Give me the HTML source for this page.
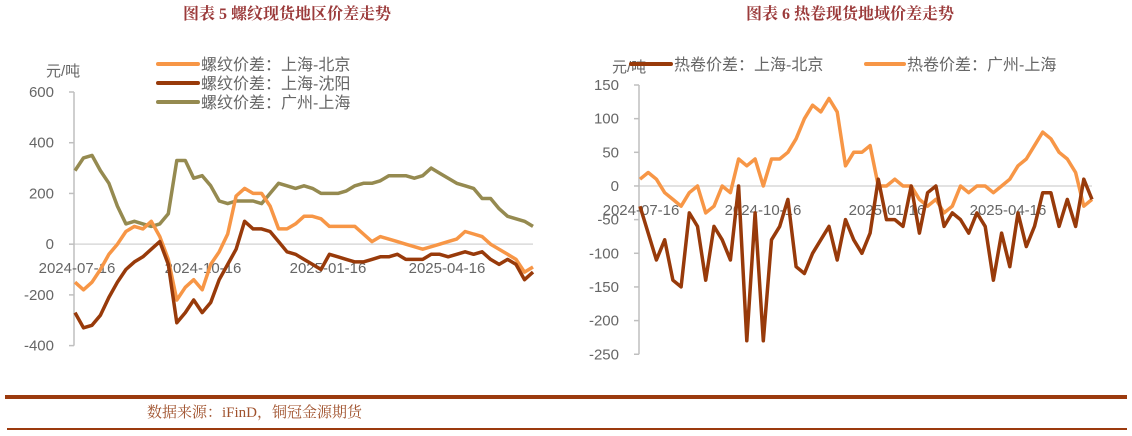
<!DOCTYPE html>
<html><head><meta charset="utf-8"><style>
body{margin:0;width:1132px;height:436px;background:#fff;overflow:hidden}
svg{display:block}
text{font-family:"Liberation Sans","Noto Sans CJK SC",sans-serif}
.t{font-family:"Liberation Serif","Noto Serif CJK SC",serif;font-weight:bold;fill:#9b3a3a;font-size:16px}
.ax{fill:#666;font-size:15px}
.lg{fill:#666;font-size:16px}
</style></head><body>
<svg id="s" width="1132" height="436">
<text class="t" x="287" y="19" text-anchor="middle">图表 5  螺纹现货地区价差走势</text>
<text class="t" x="850" y="19" text-anchor="middle">图表 6 热卷现货地域价差走势</text>
<g id="L"></g>
<g id="R"></g>
<rect x="5" y="395" width="1122" height="4" fill="#9b3a0e"/>
<rect x="7" y="428" width="1120" height="2" fill="#9b3a0e"/>
<text x="147" y="417" style="font-family:'Liberation Serif','Noto Serif CJK SC',serif;font-size:15px;fill:#a0522d">数据来源：iFinD，铜冠金源期货</text>
</svg>
<script>
const leftYTicks=[600,400,200,0,-200,-400];
const leftXLabels=["2024-07-16","2024-10-16","2025-01-16","2025-04-16"];
const rebarShBj=[-150,-180,-150,-100,-40,0,50,70,60,90,30,-60,-220,-170,-140,-180,-80,-30,40,190,220,200,200,150,60,60,80,110,110,100,70,70,70,70,40,10,30,20,10,0,-10,-20,-10,0,10,20,50,40,30,0,-20,-40,-60,-110,-90];
const rebarShSy=[-270,-330,-320,-280,-210,-150,-100,-70,-50,-20,10,-80,-310,-270,-220,-270,-230,-140,-80,-20,90,60,60,50,10,-30,-40,-60,-80,-100,-40,-50,-60,-70,-70,-60,-50,-50,-40,-60,-60,-60,-40,-40,-50,-40,-30,-40,-30,-60,-80,-60,-80,-140,-110];
const rebarGzSh=[290,340,350,290,240,150,80,90,80,70,80,120,330,330,260,270,230,170,160,170,170,170,160,200,240,230,220,230,220,200,200,200,210,230,240,240,250,270,270,270,260,270,300,280,260,240,230,220,180,180,140,110,100,90,70];
const rightYTicks=[150,100,50,0,-50,-100,-150,-200,-250];
const rightXLabels=["2024-07-16","2024-10-16","2025-01-16","2025-04-16"];
const coilShBj=[-30,-70,-110,-80,-140,-150,-40,-60,-140,-60,-80,-110,0,-230,-40,-230,-80,-60,-20,-120,-130,-100,-80,-60,-110,-50,-80,-100,-70,10,-50,-50,-60,0,-70,-10,0,-60,-40,-50,-70,-40,-60,-140,-70,-120,-40,-90,-60,-10,-10,-60,-20,-60,10,-20];
const coilGzSh=[10,20,10,-10,-20,-30,-10,0,-40,-30,0,-10,40,30,40,0,40,40,50,70,100,120,110,130,110,30,50,50,60,0,0,10,0,0,-20,-30,-20,-40,-30,0,-10,0,0,-10,0,10,30,40,60,80,70,50,40,20,-30,-20];

const NS="http://www.w3.org/2000/svg";
function mk(p,tag,at,txt){const e=document.createElementNS(NS,tag);for(const k in at)e.setAttribute(k,at[k]);if(txt!==undefined)e.textContent=txt;p.appendChild(e);return e;}

function chart(g,cfg){
  const y=v=>cfg.y0-(v-cfg.vmin)/(cfg.vmax-cfg.vmin)*(cfg.y0-cfg.y1);
  const zy=y(0);
  const grid=mk(g,'line',{x1:cfg.ax,x2:cfg.xe,y1:zy,y2:zy,stroke:'#d9d9d9','stroke-width':1.5});
  
  
  const axl=mk(g,'line',{x1:cfg.ax,x2:cfg.ax,y1:y(cfg.vmax),y2:y(cfg.vmin),stroke:'#bfbfbf','stroke-width':1.5});
  
  
  cfg.yt.forEach(v=>{
    const tk=mk(g,'line',{x1:cfg.ax-5,x2:cfg.ax,y1:y(v),y2:y(v),stroke:'#bfbfbf','stroke-width':1.5});
    
    
    const t=mk(g,'text',{x:cfg.ax-20,y:y(v)+5,'text-anchor':'end',class:'ax'},String(v));
    
    
  });
  cfg.xl.forEach((s,i)=>{
    const t=mk(g,'text',{x:cfg.xlx[i],y:cfg.xly,'text-anchor':'middle',class:'ax'},s);
    
    
  });
  cfg.series.forEach(s=>{
    const n=s.d.length;
    const pts=s.d.map((v,i)=>(cfg.xs+(cfg.xe-cfg.xs)*i/(n-1)).toFixed(1)+','+y(v).toFixed(1)).join(' ');
    const pl=mk(g,'polyline',{points:pts,fill:'none',stroke:s.c,'stroke-width':3.5,'stroke-linejoin':'round'});
    
    
  });
  const u=mk(g,'text',{x:cfg.ux,y:cfg.uy,class:'ax'},'元/吨');
  
  
  cfg.series.forEach(s=>{
    const l=mk(g,'line',{x1:s.lx1,x2:s.lx2,y1:s.ly,y2:s.ly,stroke:s.c,'stroke-width':4,'stroke-linecap':'round'});
    
    
    const t=mk(g,'text',{x:s.lx2+3,y:s.ly+6,class:'lg'},s.label);
    
    
  });
}
chart(document.getElementById('L'),{ax:74,xs:75,xe:533,y0:244+400*0.254,y1:92,vmin:-400,vmax:600,yt:leftYTicks,xl:leftXLabels,xlx:[77,203,328,447],xly:273,ux:46,uy:76,
 series:[
  {d:rebarGzSh,c:'#958a50',name:'series-guangzhou-shanghai',label:'螺纹价差：广州-上海',lx1:158,lx2:198,ly:102},
  {d:rebarShBj,c:'#f79646',name:'series-shanghai-beijing',label:'螺纹价差：上海-北京',lx1:158,lx2:198,ly:64},
  {d:rebarShSy,c:'#983a0a',name:'series-shanghai-shenyang',label:'螺纹价差：上海-沈阳',lx1:158,lx2:198,ly:83}
 ]});
chart(document.getElementById('R'),{ax:639,xs:640,xe:1092,y0:186+250*0.673,y1:85,vmin:-250,vmax:150,yt:rightYTicks,xl:rightXLabels,xlx:[641,763,887,1008],xly:215,ux:612,uy:72,
 series:[
  {d:coilGzSh,c:'#f79646',name:'series-coil-guangzhou-shanghai',label:'热卷价差：广州-上海',lx1:866,lx2:904,ly:64},
  {d:coilShBj,c:'#983a0a',name:'series-coil-shanghai-beijing',label:'热卷价差：上海-北京',lx1:631,lx2:671,ly:64}
 ]});
</script>
</body></html>
